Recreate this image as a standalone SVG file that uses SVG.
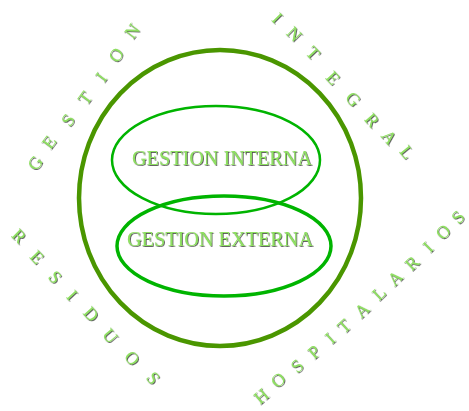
<svg xmlns="http://www.w3.org/2000/svg" width="469" height="411" viewBox="0 0 469 411">
<defs>
<filter id="sh" x="-20%" y="-20%" width="140%" height="140%">
<feDropShadow dx="0.8" dy="0.8" stdDeviation="0.3" flood-color="#222" flood-opacity="0.85"/>
</filter>
</defs>
<style>
.lbl{font-family:"Liberation Serif","Times New Roman",serif;fill:#8fe062;filter:url(#sh)}
.c{font-size:20px;text-anchor:middle}
.a text{font-size:18px;text-anchor:middle;dominant-baseline:central}
.outer{fill:none;stroke:#4a9600;stroke-width:4.5}
.inner{fill:none;stroke:#00b400}
</style>
<rect width="469" height="411" fill="#fff"/>
<g id="outer-circle"><ellipse class="outer" cx="220" cy="198" rx="141" ry="148"/></g>
<g id="gestion-interna">
<ellipse class="inner" cx="216" cy="160" rx="104" ry="54" stroke-width="2.5"/>
<text class="lbl c" x="222" y="165" textLength="180" lengthAdjust="spacingAndGlyphs">GESTION INTERNA</text>
</g>
<g id="gestion-externa">
<ellipse class="inner" cx="224" cy="246" rx="107" ry="50" stroke-width="3.5"/>
<text class="lbl c" x="220" y="246" textLength="186" lengthAdjust="spacingAndGlyphs">GESTION EXTERNA</text>
</g>
<g id="arc-gestion" class="lbl a">
<text transform="translate(35,163) rotate(-53)">G</text>
<text transform="translate(49,142) rotate(-53)">E</text>
<text transform="translate(68,120) rotate(-53)">S</text>
<text transform="translate(85,98) rotate(-53)">T</text>
<text transform="translate(101,77) rotate(-53)">I</text>
<text transform="translate(116,55) rotate(-53)">O</text>
<text transform="translate(132,31) rotate(-53)">N</text>
</g>
<g id="arc-integral" class="lbl a">
<text transform="translate(277,18) rotate(45)">I</text>
<text transform="translate(294,34) rotate(45)">N</text>
<text transform="translate(313,53) rotate(46)">T</text>
<text transform="translate(333,78) rotate(47)">E</text>
<text transform="translate(353,99) rotate(48)">G</text>
<text transform="translate(372,120) rotate(49)">R</text>
<text transform="translate(389,137) rotate(50)">A</text>
<text transform="translate(407,152) rotate(50)">L</text>
</g>
<g id="arc-residuos" class="lbl a">
<text transform="translate(19,236) rotate(45)">R</text>
<text transform="translate(37,257) rotate(46)">E</text>
<text transform="translate(55,277) rotate(47)">S</text>
<text transform="translate(72,295) rotate(47)">I</text>
<text transform="translate(91,314) rotate(48)">D</text>
<text transform="translate(110,336) rotate(49)">U</text>
<text transform="translate(132,358) rotate(50)">O</text>
<text transform="translate(153,378) rotate(50)">S</text>
</g>
<g id="arc-hospitalarios" class="lbl a">
<text transform="translate(261,396) rotate(-40)">H</text>
<text transform="translate(278,380) rotate(-40)">O</text>
<text transform="translate(297,366) rotate(-41)">S</text>
<text transform="translate(314,352) rotate(-41)">P</text>
<text transform="translate(330,338) rotate(-42)">I</text>
<text transform="translate(344,326) rotate(-42)">T</text>
<text transform="translate(362,310) rotate(-43)">A</text>
<text transform="translate(379,293) rotate(-43)">L</text>
<text transform="translate(395,278) rotate(-44)">A</text>
<text transform="translate(412,263) rotate(-44)">R</text>
<text transform="translate(428,247) rotate(-45)">I</text>
<text transform="translate(443,232) rotate(-45)">O</text>
<text transform="translate(458,217) rotate(-46)">S</text>
</g>
</svg>
